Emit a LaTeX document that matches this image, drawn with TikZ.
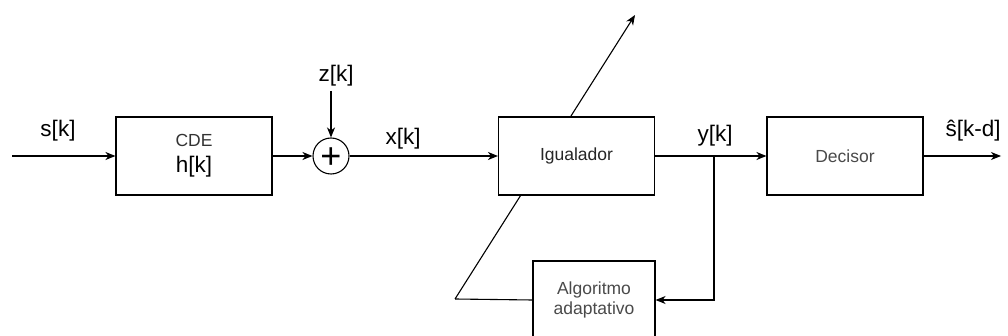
\documentclass[tikz,border=0pt]{standalone}
\usepackage{fontspec}
\setmainfont{Liberation Sans}
\usetikzlibrary{arrows.meta}
\definecolor{boxtext}{HTML}{333333}
\definecolor{boxtextb}{HTML}{4A4A4A}
\tikzset{
  blk/.style={draw, fill=white, line width=1.1pt, minimum width=156pt, minimum height=78pt, inner sep=0pt, font=\fontsize{17.5}{20}\selectfont},
  lbl/.style={inner sep=0pt, font=\fontsize{22.5}{26}\selectfont, text=black},
  conn/.style={line width=1.1pt, -{Stealth[length=10pt,width=8pt,inset=3pt]}},
  plain/.style={line width=1.1pt}
}
\begin{document}
\begin{tikzpicture}[x=1pt,y=-1pt]
\useasboundingbox (0,0) rectangle (1008,336);
\clip (0,0) rectangle (1008,336);
% nodes not crossed by the diagonal
\node[blk, text=boxtext, align=center] (cde) at (194,156) {};
\node[inner sep=0pt, font=\fontsize{17.5}{20}\selectfont, text=boxtext] (cdet) at (194,140) {CDE};
\node[lbl] (hk) at (194,167) {h[k]};
\node[circle, draw, fill=white, line width=1.1pt, minimum size=36pt, inner sep=0pt] (sum) at (331,156) {};
\node[inner sep=0pt, font=\fontsize{36}{36}\selectfont] (plus) at (331,158) {+};
\node[blk, text=boxtextb] (dec) at (845,156) {Decisor};
\node[blk, minimum width=122pt, align=center, text=boxtextb] (alg) at (594,300) {Algoritmo\\adaptativo};
% diagonal adaptation arrow (drawn under the equalizer)
\coordinate (corner) at (455,299);
\coordinate (tip) at (635,15);
\draw[plain] (alg.west) -- (corner);
\draw[conn] (corner) -- (tip);
\node[blk, text=black!85] (eq) at (576.5,156) {Igualador};
% labels
\node[lbl] (sk) at (58,131) {s[k]};
\node[lbl] (zk) at (336,76) {z[k]};
\node[lbl] (xk) at (403,139) {x[k]};
\node[lbl] (yk) at (715,136) {y[k]};
\node[lbl] (shk) at (973,131) {ŝ[k-d]};
% connectors
\coordinate (in) at (12,156);
\coordinate (ztop) at (331,91);
\coordinate (out) at (1001,156);
\coordinate (junc) at (714,156);
\draw[conn] (in) -- (cde.west);
\draw[conn] (cde.east) -- (sum.west);
\draw[conn] (ztop) -- (sum.north);
\draw[conn] (sum.east) -- (eq.west);
\draw[conn] (eq.east) -- (dec.west);
\draw[conn] (dec.east) -- (out);
\draw[conn] (junc) |- (alg.east);
\end{tikzpicture}
\end{document}
